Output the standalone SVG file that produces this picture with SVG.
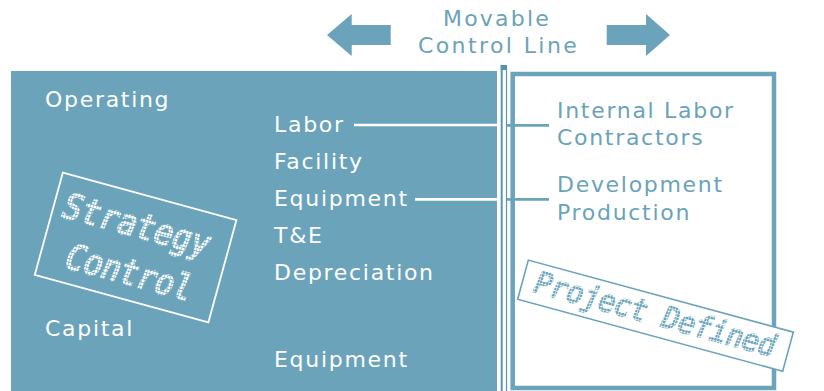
<svg xmlns="http://www.w3.org/2000/svg" width="824" height="391" viewBox="0 0 824 391">
<style>
.lbl{font-family:"DejaVu Sans",Verdana,sans-serif;font-size:22px;letter-spacing:1.7px}
.w{fill:#ffffff}
.b{fill:#6aa3ba}
.stamp{font-family:"DejaVu Sans Mono","Liberation Mono",monospace;font-weight:normal;font-style:italic}
.sw{fill:url(#dotsW);stroke:url(#dotsW);stroke-width:1.6px}
.sb{fill:url(#dotsB);stroke:url(#dotsB);stroke-width:1.5px}
</style>
<defs>
<pattern id="dotsW" width="3" height="3" patternUnits="userSpaceOnUse"><rect width="2.3" height="2.3" fill="#ffffff"/></pattern>
<pattern id="dotsB" width="3" height="3" patternUnits="userSpaceOnUse"><rect width="2.3" height="2.3" fill="#6aa3ba"/></pattern>
</defs>
<rect width="824" height="391" fill="#ffffff"/>

<g id="movable-control-line">
<polygon points="327,35 351.7,14 351.7,25 390.7,25 390.7,45 351.7,45 351.7,56" fill="#6aa3ba"/>
<polygon points="670,35 646,14 646,25 606.7,25 606.7,45 646,45 646,56" fill="#6aa3ba"/>
<text class="lbl b" x="443" y="26" style="letter-spacing:2.2px">Movable</text>
<text class="lbl b" x="418" y="53" style="letter-spacing:2.4px">Control Line</text>
</g>

<g id="strategy-panel">
<rect x="11" y="71" width="486" height="320" fill="#6aa3ba"/>
<text class="lbl w" x="45" y="107">Operating</text>
<text class="lbl w" x="45" y="336">Capital</text>
</g>

<g id="cost-items">
<text class="lbl w" x="274" y="132">Labor</text>
<text class="lbl w" x="274" y="169">Facility</text>
<text class="lbl w" x="274" y="206">Equipment</text>
<text class="lbl w" x="274" y="243">T&amp;E</text>
<text class="lbl w" x="274" y="280">Depreciation</text>
<text class="lbl w" x="274" y="367">Equipment</text>
</g>

<g id="control-line">
<rect x="500.7" y="65" width="6.3" height="5" fill="#5592a9"/>
<rect x="500.7" y="65" width="2" height="326" fill="#5a97ad"/>
<rect x="505.9" y="65" width="1.2" height="326" fill="#5a97ad"/>
</g>

<g id="project-panel">
<rect x="512.7" y="74" width="261.3" height="314" fill="none" stroke="#6aa3ba" stroke-width="4.5"/>
<text class="lbl b" x="557" y="118">Internal Labor</text>
<text class="lbl b" x="557" y="145">Contractors</text>
<text class="lbl b" x="557" y="192">Development</text>
<text class="lbl b" x="557" y="220">Production</text>
</g>

<g id="connectors">
<line x1="354" y1="125" x2="497" y2="125" stroke="#ffffff" stroke-width="2.7"/>
<line x1="415" y1="199.3" x2="497" y2="199.3" stroke="#ffffff" stroke-width="2.7"/>
<line x1="507" y1="125.3" x2="549" y2="125.3" stroke="#6aa3ba" stroke-width="2.7"/>
<line x1="507" y1="199.3" x2="549" y2="199.3" stroke="#6aa3ba" stroke-width="2.7"/>
</g>

<g id="strategy-control-stamp" transform="translate(135.6,247.5) rotate(15.35)">
<rect x="-90" y="-53" width="180" height="106" fill="none" stroke="#ffffff" stroke-width="1.8"/>
<text class="stamp sw" x="-80" y="-10" font-size="31" letter-spacing="0.2" transform="scale(1,1.15)" dy="0" style="transform-origin:0 -10px">Strategy</text>
<text class="stamp sw" x="-64" y="38" font-size="31" letter-spacing="-0.2" style="transform-origin:0 38px;transform:scale(1,1.15)">Control</text>
</g>

<g id="project-defined-stamp" transform="translate(655.5,315.7) rotate(15.2)">
<rect x="-137.3" y="-20.3" width="274.6" height="40.6" fill="#ffffff" stroke="#6aa3ba" stroke-width="1.6"/>
<text class="stamp sb" x="-125" y="9" font-size="28" letter-spacing="-0.3" style="transform-origin:0 9px;transform:scale(1,1.08)">Project Defined</text>
</g>
</svg>
